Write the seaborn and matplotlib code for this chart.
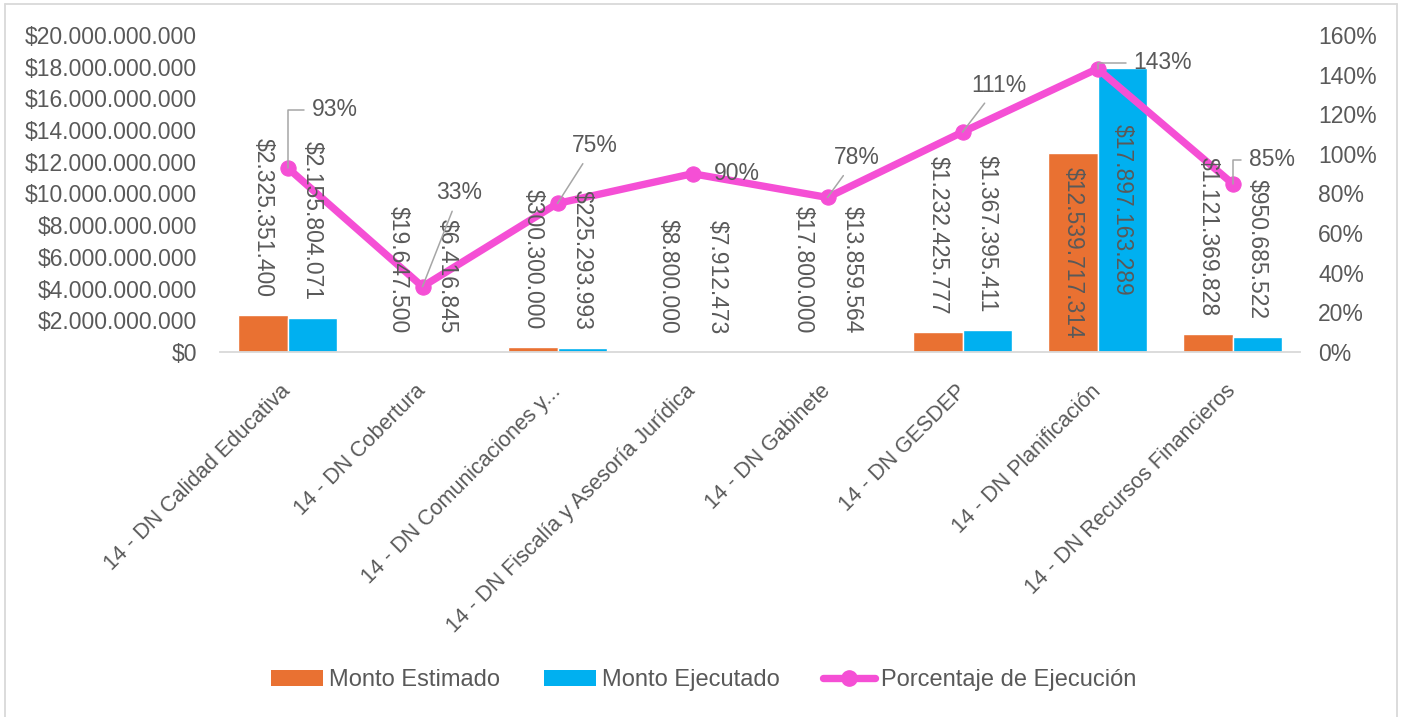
import numpy as np
import pandas as pd
import matplotlib
matplotlib.use("Agg")
import matplotlib.pyplot as plt
import seaborn as sns
from matplotlib.patches import Patch
from matplotlib.lines import Line2D
from matplotlib.ticker import FuncFormatter, MultipleLocator

# ---------------- data ----------------
categories = [
    "14 - DN Calidad Educativa",
    "14 - DN Cobertura",
    "14 - DN Comunicaciones y...",
    "14 - DN Fiscalía y Asesoría Jurídica",
    "14 - DN Gabinete",
    "14 - DN GESDEP",
    "14 - DN Planificación",
    "14 - DN Recursos Financieros",
]
monto_estimado = [2325351400, 19647500, 300300000, 8800000, 17800000,
                  1232425777, 12539717314, 1121369828]
monto_ejecutado = [2155804071, 6416845, 225293993, 7912473, 13859564,
                   1367395411, 17897163289, 950685522]
porcentaje = [0.93, 0.33, 0.75, 0.90, 0.78, 1.11, 1.43, 0.85]
series_names = ["Monto Estimado", "Monto Ejecutado", "Porcentaje de Ejecución"]

# label offsets (pixels: dx right, dy up) for the percentage labels, and leader style
pct_offsets = [(47, 58), (37, 94), (37, 58), (44, 0), (29, 40), (36, 47), (65, 6), (39, 24)]
pct_leader = ["elbow", "straight", "straight", None, "straight", "straight", "elbow", "elbow"]

# ---------------- style ----------------
ORANGE = "#E97132"
BLUE = "#00B0F0"
PINK = "#F54FD5"
TXT = "#595959"
GRID = "#D9D9D9"
LEAD = "#A6A6A6"
FONT = ["Liberation Sans", "DejaVu Sans"]

sns.set_theme(style="white")
plt.rcParams["font.family"] = FONT
plt.rcParams["text.color"] = TXT

W, H = 1403, 717
fig = plt.figure(figsize=(W / 100, H / 100), dpi=100)
L, R, T, B = 220, 1300, 35, 352
ax = fig.add_axes([L / W, 1 - B / H, (R - L) / W, (B - T) / H])

df = pd.DataFrame({
    "cat": categories * 2,
    "serie": [series_names[0]] * len(categories) + [series_names[1]] * len(categories),
    "valor": monto_estimado + monto_ejecutado,
})
sns.barplot(data=df, x="cat", y="valor", hue="serie", order=categories,
            hue_order=series_names[:2], palette=[ORANGE, BLUE], width=0.73,
            saturation=1, ax=ax, legend=False, errorbar=None)

ax.set_xlim(-0.5, len(categories) - 0.5)
ax.set_ylim(0, 20e9)
ax.yaxis.set_major_locator(MultipleLocator(2e9))
ax.yaxis.set_major_formatter(FuncFormatter(lambda v, p: "$" + f"{v:,.0f}".replace(",", ".")))
ax.set_xlabel("")
ax.set_ylabel("")
for s in ["top", "left", "right"]:
    ax.spines[s].set_visible(False)
ax.spines["bottom"].set_color(GRID)
ax.spines["bottom"].set_linewidth(1.3)
ax.tick_params(axis="y", length=0, pad=16.5, labelsize=16.5, labelcolor=TXT)
ax.tick_params(axis="x", length=0, pad=26, labelsize=15.5, labelcolor=TXT)
ax.set_xticks(range(len(categories)))
ax.set_xticklabels(categories, rotation=45, ha="right", va="center", rotation_mode="anchor")
ax.grid(False)

# secondary axis with the line
ax2 = ax.twinx()
xs = np.arange(len(categories))
sns.lineplot(x=xs, y=porcentaje, ax=ax2, color=PINK, linewidth=5.3, marker="o",
             markersize=11, markeredgecolor=PINK, markerfacecolor=PINK, legend=False)
ax2.set_ylim(0, 1.6)
ax2.yaxis.set_major_locator(MultipleLocator(0.2))
ax2.yaxis.set_major_formatter(FuncFormatter(lambda v, p: f"{v * 100:.0f}%"))
ax2.tick_params(axis="y", length=0, pad=13, labelsize=16.5, labelcolor=TXT)
for s in ax2.spines.values():
    s.set_visible(False)
ax2.grid(False)
ax.set_xlim(-0.5, len(categories) - 0.5)

# bar value labels (drawn on ax2 so they sit above the line)
bw = 0.73 / 2
fmt = lambda v: "$" + f"{v:,.0f}".replace(",", ".")
for i in range(len(categories)):
    for j, vals in enumerate([monto_estimado, monto_ejecutado]):
        v = vals[i]
        xc = i - bw / 2 + j * bw
        if v > 5e9:
            ax2.text(xc, v / 2, fmt(v), transform=ax.transData, rotation=-90,
                     ha="center", va="center", rotation_mode="anchor",
                     fontsize=16.5, color=TXT, zorder=5)
        else:
            ax2.annotate(fmt(v), xy=(xc, v), xycoords=ax.transData,
                         xytext=(0, 13), textcoords="offset points",
                         rotation=-90, ha="right", va="center",
                         rotation_mode="anchor", fontsize=16.5, color=TXT, zorder=5)

# percentage labels with leader lines
px2pt = 72 / 100
for i, p in enumerate(porcentaje):
    dx, dy = pct_offsets[i]
    style = pct_leader[i]
    arrow = None
    if style == "elbow":
        arrow = dict(arrowstyle="-", color=LEAD, lw=1.1, shrinkA=3, shrinkB=0,
                     connectionstyle="angle,angleA=0,angleB=90,rad=0")
    elif style == "straight":
        arrow = dict(arrowstyle="-", color=LEAD, lw=1.1, shrinkA=3, shrinkB=0)
    ax2.annotate(f"{p * 100:.0f}%", xy=(i, p), xytext=(dx * px2pt, dy * px2pt),
                 textcoords="offset points", ha="center", va="center",
                 fontsize=16.5, color=TXT, arrowprops=arrow, zorder=6)

# legend
handles = [
    Patch(facecolor=ORANGE, edgecolor="none", label=series_names[0]),
    Patch(facecolor=BLUE, edgecolor="none", label=series_names[1]),
    Line2D([0], [0], color=PINK, lw=5.3, marker="o", markersize=11, label=series_names[2]),
]
fig.legend(handles=handles, loc="center", bbox_to_anchor=(704 / W, 1 - 680 / H),
           ncol=3, frameon=False, fontsize=17, handlelength=2.2, handleheight=0.65,
           handletextpad=0.25, columnspacing=1.85, labelcolor=TXT)

# outer border (left, top, right)
for (x0, y0, x1, y1) in [(5, H, 5, 4), (5, 4, 1397, 4), (1397, 4, 1397, H)]:
    fig.add_artist(Line2D([x0 / W, x1 / W], [1 - y0 / H, 1 - y1 / H],
                          color=GRID, lw=1.3, transform=fig.transFigure))

fig.savefig("out.png", dpi=100)
